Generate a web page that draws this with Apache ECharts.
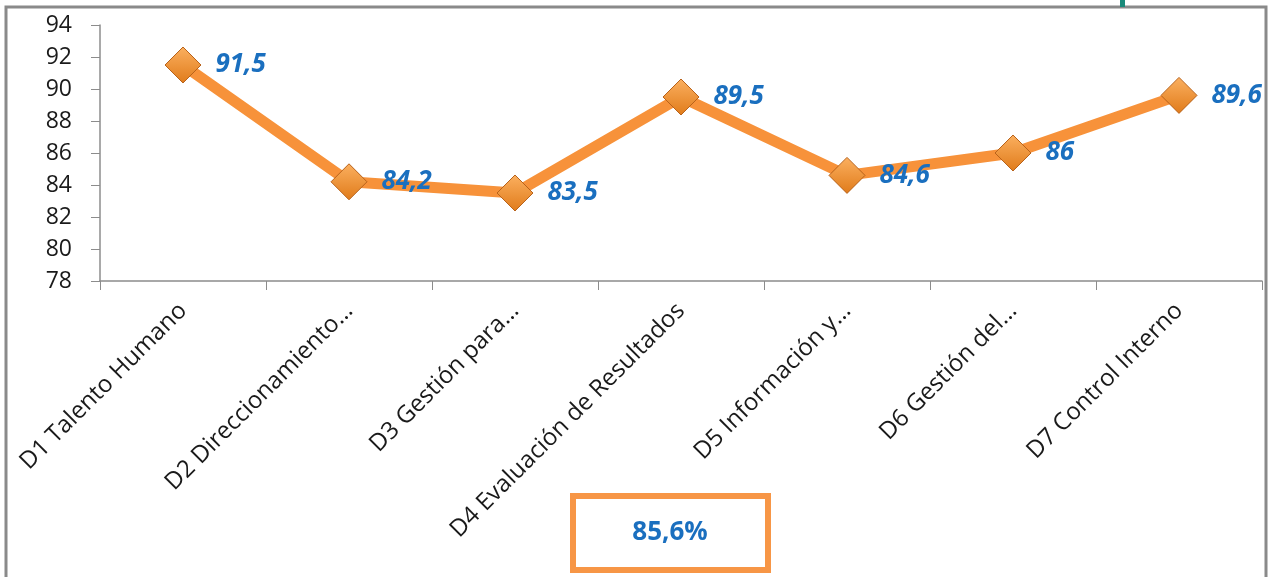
<!DOCTYPE html>
<html>
<head>
<meta charset="utf-8">
<script src="https://cdn.jsdelivr.net/npm/echarts@6/dist/echarts.min.js"></script>
<style>
  html, body { margin: 0; padding: 0; background: #fff; }
  #chart { width: 1269px; height: 577px; }
</style>
</head>
<body>
<div id="chart"></div>
<script>
// datos del gráfico
var categorias = [
  "D1 Talento Humano",
  "D2 Direccionamiento…",
  "D3 Gestión para…",
  "D4 Evaluación de Resultados",
  "D5 Información y…",
  "D6 Gestión del…",
  "D7 Control Interno"
];
var valores = [91.5, 84.2, 83.5, 89.5, 84.6, 86, 89.6];
var etiquetas = ["91,5", "84,2", "83,5", "89,5", "84,6", "86", "89,6"];
var totalTexto = "85,6%";

var chart = echarts.init(document.getElementById("chart"));
var option = {
  animation: false,
  backgroundColor: "#fff",
  grid: { left: 100, right: 7, top: 25, bottom: 296 },
  xAxis: {
    type: "category",
    data: categorias,
    boundaryGap: true,
    axisLine: { lineStyle: { color: "#8c8c8c", width: 1.5 } },
    axisTick: { show: true, length: 9, lineStyle: { color: "#8c8c8c" } },
    axisLabel: {
      rotate: 45,
      interval: 0,
      margin: 26,
      color: "#1a1a1a",
      fontSize: 24,
      fontFamily: "Open Sans"
    }
  },
  yAxis: {
    type: "value",
    min: 78,
    max: 94,
    interval: 2,
    splitLine: { show: false },
    axisLine: { show: true, lineStyle: { color: "#8c8c8c", width: 1.5 } },
    axisTick: { show: true, length: 9, lineStyle: { color: "#8c8c8c" } },
    axisLabel: { color: "#1a1a1a", fontSize: 23, fontFamily: "Open Sans", margin: 28 }
  },
  series: [{
    type: "line",
    data: valores,
    lineStyle: { color: "#f7923a", width: 11 },
    symbol: "diamond",
    symbolSize: 36,
    itemStyle: {
      color: new echarts.graphic.LinearGradient(0, 0, 0, 1, [
        { offset: 0, color: "#fbb060" },
        { offset: 1, color: "#e07b1a" }
      ]),
      borderColor: "#b8621a",
      borderWidth: 1
    },
    label: {
      show: true,
      position: "right",
      distance: 14,
      formatter: function (p) { return etiquetas[p.dataIndex]; },
      color: "#1a6fbf",
      fontSize: 26,
      fontWeight: "bold",
      fontStyle: "italic",
      fontFamily: "Open Sans"
    }
  }],
  graphic: [
    {
      type: "rect",
      shape: { x: 6, y: 7, width: 1260, height: 580 },
      style: { fill: "none", stroke: "#8a8a8a", lineWidth: 3 }
    },
    {
      type: "rect",
      shape: { x: 1120, y: 0, width: 5, height: 7 },
      style: { fill: "#1a8a7a" }
    },
    {
      type: "rect",
      shape: { x: 573, y: 496, width: 195, height: 74 },
      style: { fill: "#fff", stroke: "#f79646", lineWidth: 6 }
    },
    {
      type: "text",
      x: 670,
      y: 533,
      style: {
        text: totalTexto,
        fill: "#1a6fbf",
        font: "bold 26px 'Open Sans'",
        textAlign: "center",
        textVerticalAlign: "middle"
      }
    }
  ]
};
chart.setOption(option);
</script>
</body>
</html>
